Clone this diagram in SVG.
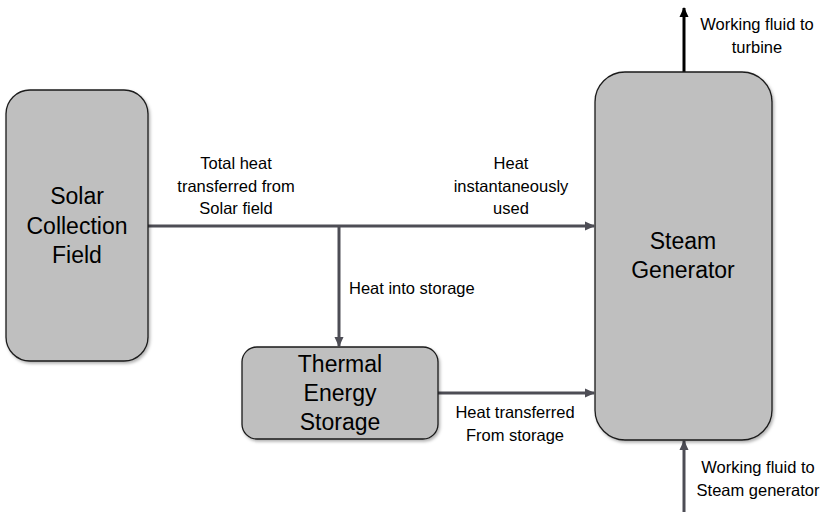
<svg xmlns="http://www.w3.org/2000/svg" width="833" height="514" viewBox="0 0 833 514">
<style>
.node{fill:#bfbfbf;stroke:#1a1a1a;stroke-width:1.3;filter:url(#sh)}
.nt{font-family:"Liberation Sans",Arial,sans-serif;font-size:23px;fill:#000;text-anchor:middle}
.lb{font-family:"Liberation Sans",Arial,sans-serif;font-size:16.5px;fill:#000;text-anchor:middle}
.cn{stroke:#4d4d55;stroke-width:3;fill:none}
</style>
<defs>
<filter id="sh" x="-10%" y="-10%" width="120%" height="120%">
<feDropShadow dx="1.5" dy="2" stdDeviation="1.5" flood-color="#000" flood-opacity="0.3"/>
</filter>
<marker id="ag" markerWidth="10" markerHeight="10" refX="9" refY="5" orient="auto" markerUnits="userSpaceOnUse">
<path d="M0,0.5 L10,5 L0,9.5 Z" fill="#4d4d55"/>
</marker>
<marker id="ab" markerWidth="10" markerHeight="10" refX="9" refY="5" orient="auto" markerUnits="userSpaceOnUse">
<path d="M0,0.5 L10,5 L0,9.5 Z" fill="#000"/>
</marker>
</defs>
<g id="connectors">
<line class="cn" x1="148" y1="226" x2="594" y2="226" marker-end="url(#ag)"/>
<line class="cn" x1="339" y1="226" x2="339" y2="346" marker-end="url(#ag)"/>
<line class="cn" x1="438" y1="393" x2="594" y2="393" marker-end="url(#ag)"/>
<line class="cn" style="stroke:#000" x1="684" y1="72" x2="684" y2="8" marker-end="url(#ab)"/>
<line class="cn" x1="684" y1="512" x2="684" y2="441" marker-end="url(#ag)"/>
<text class="lb"><tspan x="236" y="169">Total heat</tspan><tspan x="236" y="192">transferred from</tspan><tspan x="236" y="214">Solar field</tspan></text>
<text class="lb"><tspan x="511" y="169">Heat</tspan><tspan x="511" y="192">instantaneously</tspan><tspan x="511" y="214">used</tspan></text>
<text class="lb" style="text-anchor:start" x="349" y="294">Heat into storage</text>
<text class="lb"><tspan x="515" y="418">Heat transferred</tspan><tspan x="515" y="441">From storage</tspan></text>
<text class="lb"><tspan x="757" y="30">Working fluid to</tspan><tspan x="757" y="53">turbine</tspan></text>
<text class="lb"><tspan x="758" y="473">Working fluid to</tspan><tspan x="758" y="496">Steam generator</tspan></text>
</g>
<g id="solar">
<rect class="node" x="6" y="90" width="142" height="271" rx="24" ry="24"/>
<text class="nt"><tspan x="77" y="204">Solar</tspan><tspan x="77" y="234">Collection</tspan><tspan x="77" y="263">Field</tspan></text>
</g>
<g id="steam">
<rect class="node" x="595" y="72" width="177" height="368" rx="30" ry="30"/>
<text class="nt"><tspan x="683" y="249">Steam</tspan><tspan x="683" y="278">Generator</tspan></text>
</g>
<g id="tes">
<rect class="node" x="242" y="347" width="196" height="92" rx="15" ry="15"/>
<text class="nt"><tspan x="340" y="372">Thermal</tspan><tspan x="340" y="401">Energy</tspan><tspan x="340" y="430">Storage</tspan></text>
</g>
</svg>
